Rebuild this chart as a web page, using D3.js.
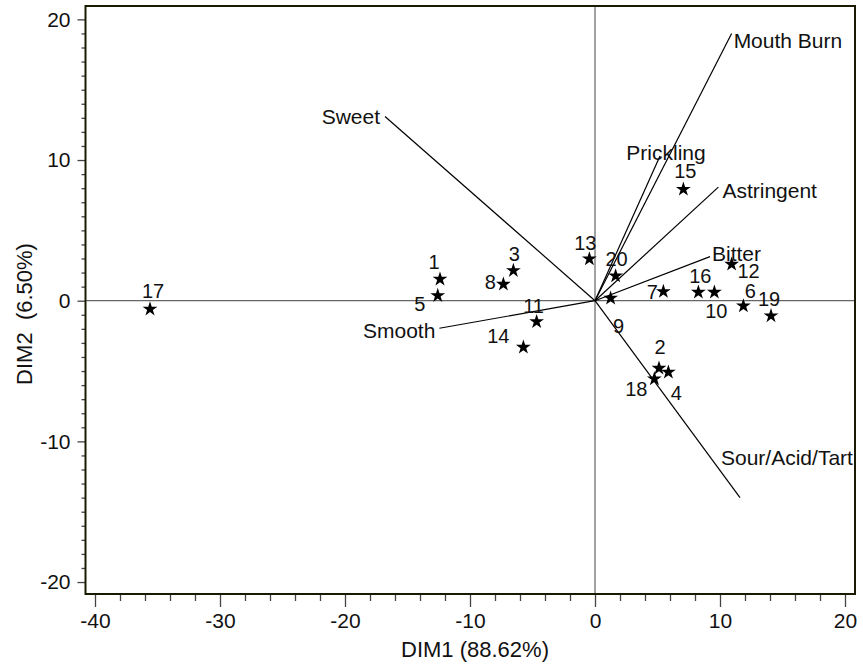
<!DOCTYPE html>
<html>
<head>
<meta charset="utf-8">
<script src="https://cdn.jsdelivr.net/npm/d3@7"></script>
<style>
  body { margin: 0; background: #fff; }
  text { font-family: "Liberation Sans", Arial, sans-serif; fill: #111; }
</style>
</head>
<body>
<div id="my_dataviz"></div>
<script>
// observations (stars)
var obsIds  = ["1","2","3","4","5","6","7","8","9","10","11","12","13","14","15","16","17","18","19","20"];
var obsDim1 = [-12.4, 5.12, -6.53, 5.87, -12.58, 11.87, 5.47, -7.33, 1.25, 9.55, -4.67, 10.93, -0.45, -5.73, 7.07, 8.27, -35.6, 4.75, 14.08, 1.65];
var obsDim2 = [1.53, -4.8, 2.14, -5.08, 0.36, -0.37, 0.65, 1.17, 0.18, 0.6, -1.49, 2.59, 2.97, -3.31, 7.92, 0.6, -0.6, -5.56, -1.08, 1.76];

// attribute vectors
var attrNames = ["Sweet", "Smooth", "Mouth Burn", "Prickling", "Astringent", "Bitter", "Sour/Acid/Tart"];
var attrDim1  = [-16.8, -12.45, 10.93, 5.2, 9.87, 9.2, 11.6];
var attrDim2  = [13.1, -1.96, 19.0, 10.28, 8.07, 3.13, -14.0];

// tick values
var xMajor = [-40, -30, -20, -10, 0, 10, 20];
var yMajor = [-20, -10, 0, 10, 20];

// label placement (pixel offsets from the mark)
var obsLabelPos = {
  "1": [-6,-17], "2": [1,-21], "3": [1,-17], "4": [8,21], "5": [-18,8],
  "6": [7,-15], "7": [-11,0], "8": [-13,-2], "9": [8,28], "10": [2,19],
  "11": [-3,-16], "12": [17,7], "13": [-4,-16], "14": [-25,-11], "15": [2,-18],
  "16": [2,-16], "17": [3,-18], "18": [-18,10], "19": [-2,-17], "20": [1,-17]
};
var attrLabelPos = {
  "Sweet": [-5, 0, "end"], "Smooth": [-4, 2, "end"], "Mouth Burn": [2, 7, "start"],
  "Prickling": [6, -4, "middle"], "Astringent": [4, 3, "start"], "Bitter": [2, -3, "start"],
  "Sour/Acid/Tart": [-19, -40, "start"]
};

var W = 863, H = 669;
var plotL = 85.5, plotR = 855, plotT = 6, plotB = 594;

var svg = d3.select("#my_dataviz")
  .append("svg")
  .attr("width", W)
  .attr("height", H);

var x = d3.scaleLinear().domain([-40.76, 20.8]).range([plotL, plotR]);
var y = d3.scaleLinear().domain([-20.85, 20.95]).range([plotB, plotT]);
var fmt = function (d) { return String(d); };   // plain hyphen minus like the original

// reference lines through origin
svg.append("line")
  .attr("x1", x(0)).attr("x2", x(0)).attr("y1", plotT).attr("y2", plotB)
  .style("stroke", "#666").style("stroke-width", 1.2);
svg.append("line")
  .attr("x1", plotL).attr("x2", plotR).attr("y1", y(0)).attr("y2", y(0))
  .style("stroke", "#666").style("stroke-width", 1.2);

// X axis: major + minor ticks
var xMinor = d3.range(-40, 21, 2).filter(function (v) { return xMajor.indexOf(v) < 0; });
var gx = svg.append("g").attr("transform", "translate(0," + plotB + ")");
gx.call(d3.axisBottom(x).tickValues(xMajor).tickSize(13).tickPadding(6).tickFormat(fmt));
gx.append("g").call(d3.axisBottom(x).tickValues(xMinor).tickSize(7).tickFormat(""));
gx.selectAll(".domain").remove();
gx.selectAll("line").style("stroke", "#444").style("stroke-width", 1.3);
gx.selectAll("text").style("font-size", "21px").attr("fill", "#111");

// Y axis
var yMinor = d3.range(-20, 21, 1).filter(function (v) { return yMajor.indexOf(v) < 0; });
var gy = svg.append("g").attr("transform", "translate(" + plotL + ",0)");
gy.call(d3.axisLeft(y).tickValues(yMajor).tickSize(8).tickPadding(7).tickFormat(fmt));
gy.append("g").call(d3.axisLeft(y).tickValues(yMinor).tickSize(4).tickFormat(""));
gy.selectAll(".domain").remove();
gy.selectAll("line").style("stroke", "#444").style("stroke-width", 1.3);
gy.selectAll("text").style("font-size", "21px").attr("fill", "#111");

// frame
svg.append("rect")
  .attr("x", plotL).attr("y", plotT)
  .attr("width", plotR - plotL).attr("height", plotB - plotT)
  .style("fill", "none").style("stroke", "#1a1a00").style("stroke-width", 2);

// axis titles
svg.append("text")
  .attr("text-anchor", "middle")
  .attr("x", 475).attr("y", 657)
  .text("DIM1 (88.62%)")
  .style("font-size", "22px");

svg.append("text")
  .attr("text-anchor", "middle")
  .attr("transform", "translate(32,314) rotate(-90)")
  .text("DIM2\u00a0\u00a0(6.50%)")
  .style("font-size", "22px");

// attribute vectors
var attrs = attrNames.map(function (n, i) { return { name: n, d1: attrDim1[i], d2: attrDim2[i] }; });

svg.append("g")
  .selectAll("line")
  .data(attrs)
  .enter()
  .append("line")
  .attr("x1", x(0)).attr("y1", y(0))
  .attr("x2", function (d) { return x(d.d1); })
  .attr("y2", function (d) { return y(d.d2); })
  .style("stroke", "#000").style("stroke-width", 1.2);

svg.append("g")
  .selectAll("text")
  .data(attrs)
  .enter()
  .append("text")
  .attr("x", function (d) { return x(d.d1) + attrLabelPos[d.name][0]; })
  .attr("y", function (d) { return y(d.d2) + attrLabelPos[d.name][1]; })
  .attr("text-anchor", function (d) { return attrLabelPos[d.name][2]; })
  .attr("dominant-baseline", "central")
  .text(function (d) { return d.name; })
  .style("font-size", "21px");

// observation stars
var obs = obsIds.map(function (id, i) { return { id: id, d1: obsDim1[i], d2: obsDim2[i] }; });
var star = d3.symbol().type(d3.symbolStar).size(68);

svg.append("g")
  .selectAll("path")
  .data(obs)
  .enter()
  .append("path")
  .attr("d", star)
  .attr("transform", function (d) { return "translate(" + x(d.d1) + "," + y(d.d2) + ")"; })
  .style("fill", "#000");

svg.append("g")
  .selectAll("text")
  .data(obs)
  .enter()
  .append("text")
  .attr("x", function (d) { return x(d.d1) + obsLabelPos[d.id][0]; })
  .attr("y", function (d) { return y(d.d2) + obsLabelPos[d.id][1]; })
  .attr("text-anchor", "middle")
  .attr("dominant-baseline", "central")
  .text(function (d) { return d.id; })
  .style("font-size", "20px");
</script>
</body>
</html>
